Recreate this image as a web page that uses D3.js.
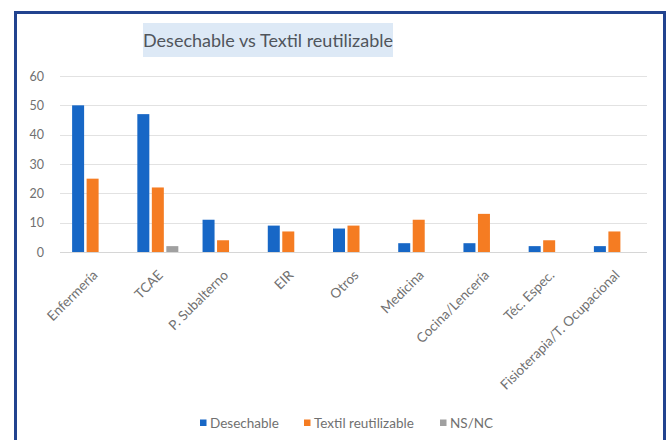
<!DOCTYPE html>
<html><head><meta charset="utf-8">
<script src="https://cdn.jsdelivr.net/npm/d3@7"></script>
<style>body{margin:0;background:#fff}svg{display:block}</style>
</head><body>
<script>
const categories = ["Enfermería","TCAE","P. Subalterno","EIR","Otros","Medicina","Cocina/Lencería","Téc. Espec.","Fisioterapia/T. Ocupacional"];
const seriesNames = ["Desechable","Textil reutilizable","NS/NC"];
const desechable = [50,47,11,9,8,3,3,2,2];
const textil = [25,22,4,7,9,11,13,4,7];
const nsnc = [0,2,0,0,0,0,0,0,0];
const yTicks = [0,10,20,30,40,50,60];
const colors = ["#1767c6","#f57c22","#a0a0a0"];
const title = "Desechable vs Textil reutilizable";

const W=670,H=440;
const svg=d3.select("body").append("svg").attr("width",W).attr("height",H);
const font="Lato, 'Open Sans', sans-serif";
// frame
svg.append("rect").attr("x",15.5).attr("y",12.5).attr("width",649).attr("height",440)
  .attr("fill","#fff").attr("stroke","#22438f").attr("stroke-width",3);

const x0=60,x1=647,yTop=76,yBot=252;
const x=d3.scaleBand().domain(categories).range([x0,x1]);
const y=d3.scaleLinear().domain([0,60]).range([yBot,yTop]);
const bw=12,gap=2.5;
const xs=d3.scaleBand().domain(seriesNames).range([0,3*bw+2*gap]).paddingInner(gap/(bw+gap));

// title
const tg=svg.append("g");
tg.append("rect").attr("x",143).attr("y",23).attr("width",250).attr("height",34).attr("fill","#dde9f6");
tg.append("text").attr("x",268).attr("y",47).attr("text-anchor","middle").attr("font-family",font)
  .attr("font-size",18).attr("fill","#50555c").text(title);

// grid
svg.append("g").selectAll("line").data(yTicks).join("line")
  .attr("x1",x0).attr("x2",x1).attr("y1",d=>Math.round(y(d))+0.5).attr("y2",d=>Math.round(y(d))+0.5)
  .attr("stroke",d=>d===0?"#d6d6d6":"#e2e2e2").attr("stroke-width",1);

// y axis
const ya=svg.append("g").attr("transform",`translate(44,0)`)
  .call(d3.axisLeft(y).tickValues(yTicks).tickSize(0).tickPadding(0));
ya.select(".domain").remove();
ya.selectAll("text").attr("font-family",font).attr("font-size",12.5).attr("fill","#707070");

// bars
const data=[desechable,textil,nsnc];
const gw=3*bw+2*gap;
data.forEach((arr,si)=>{
  svg.append("g").selectAll("rect").data(arr).join("rect")
    .attr("x",(d,i)=>x(categories[i])+x.bandwidth()/2-gw/2+xs(seriesNames[si]))
    .attr("width",xs.bandwidth())
    .attr("y",d=>y(d)).attr("height",d=>y(0)-y(d))
    .attr("fill",colors[si]);
});

// x labels
const xa=svg.append("g").attr("transform",`translate(0,${yBot})`)
  .call(d3.axisBottom(x).tickSize(0).tickPadding(0));
xa.select(".domain").remove();
xa.selectAll("text").attr("font-family",font).attr("font-size",13.5).attr("fill","#707070")
  .attr("text-anchor","end").attr("dy","0")
  .attr("transform","translate(6,24) rotate(-45)");

// legend
const lg=svg.append("g");
const lx=[200,304,440];
seriesNames.forEach((n,i)=>{
  lg.append("rect").attr("x",lx[i]).attr("y",419.5).attr("width",6.5).attr("height",6.5).attr("fill",colors[i]);
  lg.append("text").attr("x",lx[i]+10).attr("y",427.5).attr("font-family",font).attr("font-size",13.5)
    .attr("fill","#707070").text(n);
});
</script>
</body></html>
